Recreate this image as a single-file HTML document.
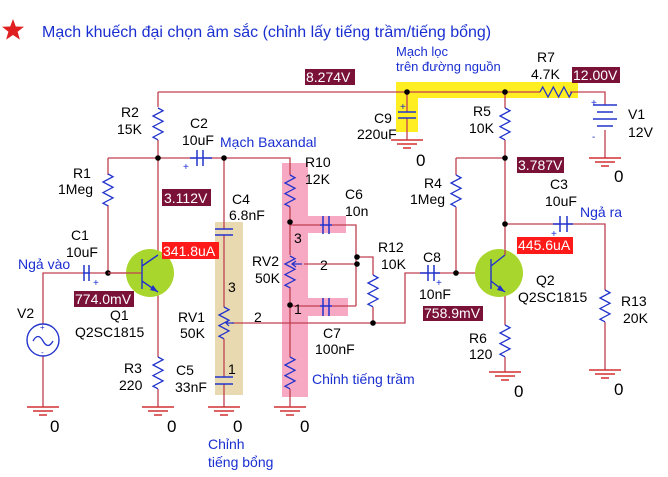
<!DOCTYPE html>
<html><head><meta charset="utf-8"><style>
html,body{margin:0;padding:0;background:#fff}
svg{display:block}
text{font-family:"Liberation Sans","DejaVu Sans",sans-serif}
.b{fill:#1a2fd0;font-size:14px}
.k{fill:#000;font-size:14px}
.w{fill:#fff;font-size:14px}
</style></head><body>
<svg width="668" height="477" viewBox="0 0 668 477" xmlns="http://www.w3.org/2000/svg">
<defs>
<path id="rv" d="M0,0 l5,2.7 l-10,5.3 l10,5.3 l-10,5.3 l10,5.3 l-10,5.3 l5,2.6" fill="none" stroke="#2233cc" stroke-width="1.3"/>
<path id="rh" d="M0,0 l2.7,-5 l5.3,10 l5.3,-10 l5.3,10 l5.3,-10 l5.3,10 l2.6,-5" fill="none" stroke="#2233cc" stroke-width="1.3"/>
<g id="gnd" stroke="#d03030" stroke-width="1.5"><line x1="-16" y1="0" x2="16" y2="0"/><line x1="-10" y1="4" x2="10" y2="4"/><line x1="-4" y1="8" x2="4" y2="8"/></g>
</defs>
<rect x="396" y="82" width="182" height="16" fill="#ffee22"/>
<rect x="396" y="82" width="22" height="50" fill="#ffee22"/>
<rect x="215" y="222" width="28" height="173" fill="#e9d9b0"/>
<rect x="282" y="163" width="26" height="234" fill="#f7a9c4"/>
<rect x="308" y="216" width="38" height="17" fill="#f7a9c4"/>
<rect x="308" y="298" width="40" height="18" fill="#f7a9c4"/>
<polygon points="13,19 15.8,26.5 24,26.8 17.6,31.8 19.9,39.6 13,35 6.1,39.6 8.4,31.8 2,26.8 10.2,26.5" fill="#e02020"/>
<text x="42" y="37" class="b" style="font-size:16px">Mạch khuếch đại chọn âm sắc (chỉnh lấy tiếng trầm/tiếng bổng)</text>
<g stroke="#c04050" stroke-width="1.3" fill="none">
<path d="M158,92 H540 M570,92 H605 V105 M605,130 V158"/>
<path d="M158,92 V107 M158,140 V158 M108,158 H195 M205,158 H290 V175 M108,158 V175 M108,205 V273 M90,273 H142"/>
<path d="M43,324 V273 H83 M43,356 V407"/>
<path d="M158,255 V242 M158,158 V242 M158,292 V357 M158,389 V407"/>
<path d="M224,158 V229 M224,235 V307 M224,339 V377 M224,384 V407 M232,323 H405 V273 H428 M434,273 H478"/>
<path d="M290,207 V255 M290,287 V357 M290,389 V407 M290,225 H320 M332,225 H356 V306 M290,306 H320 M332,306 H356 M304,264 H357 M357,257 H373 V275 M373,307 V323"/>
<path d="M407,92 V112 M407,118 V140 M505,92 V108 M505,140 V250 M456,158 H505 M456,158 V175 M456,207 V273 M505,224 H560 M567,224 H605 V290 M605,322 V370 M505,292 V325 M505,357 V372"/>
</g>
<g fill="#000"><circle cx="158" cy="158" r="2.8"/><circle cx="224" cy="158" r="2.8"/><circle cx="108" cy="273" r="2.8"/><circle cx="290" cy="222" r="2.8"/><circle cx="290" cy="305" r="2.8"/><circle cx="357" cy="257" r="2.8"/><circle cx="357" cy="264" r="2.8"/><circle cx="373" cy="323" r="2.8"/><circle cx="407" cy="92" r="2.8"/><circle cx="505" cy="92" r="2.8"/><circle cx="505" cy="158" r="2.8"/><circle cx="456" cy="273" r="2.8"/><circle cx="505" cy="224" r="2.8"/></g>
<use href="#rv" x="158" y="108"/><use href="#rv" x="108" y="174"/><use href="#rv" x="158" y="357"/>
<use href="#rv" x="290" y="175"/><use href="#rv" x="290" y="256"/><use href="#rv" x="290" y="357"/>
<use href="#rv" x="224" y="307"/><use href="#rv" x="373" y="275"/>
<use href="#rv" x="505" y="108"/><use href="#rv" x="456" y="175"/><use href="#rv" x="505" y="325"/><use href="#rv" x="605" y="290"/>
<use href="#rh" x="540" y="92"/>
<g stroke="#2233cc" stroke-width="1.2" fill="none"><path d="M226,323 H234 M229,320 L226,323 L229,326"/><path d="M292,264 H302 M296,261 L292,264 L296,267"/></g>
<g stroke="#2233cc" stroke-width="1.5" fill="none">
<path d="M83,273 H90 M84,265 V281 M89,265 V281"/>
<path d="M190,158 H212 M197,150 V166 M203,150 V166"/>
<path d="M215,229 H233 M215,235 H233"/>
<path d="M215,377 H233 M215,384 H233"/>
<path d="M320,225 H332 M323,216 V234 M329,216 V234"/>
<path d="M320,306 H332 M323,298 V316 M329,298 V316"/>
<path d="M420,273 H440 M428,265 V281 M434,265 V281"/>
<path d="M398,112 H416 M398,118 H416"/>
<path d="M553,224 H573 M560,216 V232 M567,216 V232"/>
<path d="M593,105 H617 M597,112 H613 M593,119 H617 M597,126 H613"/>
</g>
<g class="b" style="font-size:10px"><text x="93" y="286">+</text><text x="183" y="170">+</text><text x="436" y="286">+</text><text x="400" y="110">+</text><text x="551" y="237">+</text><text x="591" y="106">+</text><text x="592" y="140">-</text></g>
<circle cx="43" cy="340" r="16" fill="none" stroke="#2233cc" stroke-width="1.4"/>
<path d="M33,341 q5,-9 10,0 t10,0" fill="none" stroke="#2233cc" stroke-width="1.3"/>
<text x="40" y="330" class="b" style="font-size:8px">+</text><text x="41" y="355" class="b" style="font-size:8px">-</text>
<g>
<circle cx="150" cy="273" r="24" fill="#a8d62c"/>
<path d="M108,273 H142" stroke="#c04050" stroke-width="1.3"/>
<path d="M142,259 V289 M142,266 L158,255 M142,281 L158,292" stroke="#2233cc" stroke-width="1.4" fill="none"/>
<path d="M158,292 l-8,-2 l3,-5 z" fill="#2233cc"/>
<circle cx="499" cy="273" r="24" fill="#a8d62c"/>
<path d="M491,259 V289 M491,266 L505,255 M491,281 L505,292" stroke="#2233cc" stroke-width="1.4" fill="none"/>
<path d="M505,292 l-8,-2 l3,-5 z" fill="#2233cc"/>
<path d="M505,250 V255" stroke="#c04050" stroke-width="1.3"/>
</g>
<use href="#gnd" x="43" y="407"/><use href="#gnd" x="158" y="407"/><use href="#gnd" x="224" y="407"/><use href="#gnd" x="290" y="407"/>
<use href="#gnd" x="407" y="140"/><use href="#gnd" x="605" y="158"/><use href="#gnd" x="505" y="372"/><use href="#gnd" x="605" y="370"/>
<g class="k" style="font-size:17px"><text x="50" y="432">0</text><text x="167" y="432">0</text><text x="233" y="432">0</text><text x="300" y="432">0</text><text x="416" y="166">0</text><text x="614" y="182">0</text><text x="514" y="397">0</text><text x="614" y="395">0</text></g>
<g fill="#7a1238"><rect x="305" y="69" width="50" height="16"/><rect x="162" y="189" width="49" height="17"/><rect x="74" y="291" width="60" height="16"/><rect x="572" y="67" width="48" height="16"/><rect x="517" y="157" width="47" height="16"/><rect x="423" y="306" width="60" height="15"/></g>
<g fill="#ff1a1a"><rect x="162" y="242" width="57" height="17"/><rect x="517" y="237" width="56" height="17"/></g>
<g class="w"><text x="306" y="82">8.274V</text><text x="164" y="203">3.112V</text><text x="75" y="304">774.0mV</text><text x="573" y="80">12.00V</text><text x="518" y="170">3.787V</text><text x="424" y="318">758.9mV</text><text x="163" y="256">341.8uA</text><text x="518" y="250">445.6uA</text></g>
<g class="k">
<text x="121" y="117">R2</text><text x="117" y="134">15K</text>
<text x="73" y="178">R1</text><text x="58" y="194">1Meg</text>
<text x="190" y="128">C2</text><text x="182" y="145">10uF</text>
<text x="71" y="240">C1</text><text x="66" y="257">10uF</text>
<text x="17" y="318">V2</text>
<text x="110" y="320">Q1</text><text x="75" y="337">Q2SC1815</text>
<text x="124" y="373">R3</text><text x="119" y="390">220</text>
<text x="232" y="204">C4</text><text x="229" y="220">6.8nF</text>
<text x="178" y="322">RV1</text><text x="180" y="338">50K</text>
<text x="176" y="375">C5</text><text x="175" y="392">33nF</text>
<text x="228" y="292">3</text><text x="228" y="374">1</text><text x="254" y="322">2</text>
<text x="305" y="167">R10</text><text x="305" y="184">12K</text>
<text x="345" y="199">C6</text><text x="345" y="216">10n</text>
<text x="294" y="243">3</text><text x="294" y="314">1</text><text x="320" y="270">2</text>
<text x="252" y="266">RV2</text><text x="255" y="283">50K</text>
<text x="378" y="252">R12</text><text x="381" y="269">10K</text>
<text x="323" y="338">C7</text><text x="315" y="354">100nF</text>
<text x="423" y="262">C8</text><text x="419" y="299">10nF</text>
<text x="374" y="123">C9</text><text x="357" y="139">220uF</text>
<text x="537" y="62">R7</text><text x="531" y="79">4.7K</text>
<text x="473" y="116">R5</text><text x="469" y="133">10K</text>
<text x="628" y="119">V1</text><text x="628" y="137">12V</text>
<text x="424" y="188">R4</text><text x="410" y="204">1Meg</text>
<text x="550" y="189">C3</text><text x="545" y="206">10uF</text>
<text x="536" y="285">Q2</text><text x="518" y="302">Q2SC1815</text>
<text x="469" y="343">R6</text><text x="469" y="359">120</text>
<text x="621" y="306">R13</text><text x="623" y="323">20K</text>
</g>
<g class="b">
<text x="220" y="147">Mạch Baxandal</text>
<text x="18" y="269">Ngả vào</text>
<text x="580" y="217">Ngả ra</text>
<text x="396" y="56" style="font-size:13px">Mạch lọc</text>
<text x="396" y="71" style="font-size:13px">trên đường nguồn</text>
<text x="312" y="384">Chỉnh tiếng trầm</text>
<text x="208" y="449">Chỉnh</text><text x="208" y="467">tiếng bổng</text>
</g>
</svg>
</body></html>
